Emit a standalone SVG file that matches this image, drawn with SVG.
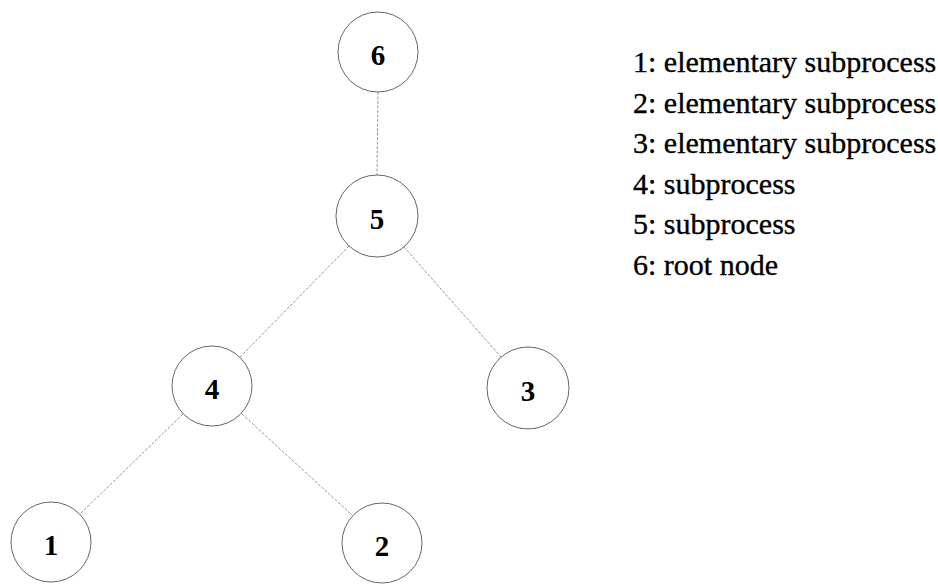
<svg xmlns="http://www.w3.org/2000/svg" width="938" height="585" viewBox="0 0 938 585">
<style>
.node circle{fill:#fff;stroke:#666;stroke-width:1}
.node text{font-family:"Liberation Serif","Times New Roman",serif;font-weight:bold;font-size:29px;text-anchor:middle;fill:#000}
.edge{stroke:#999;stroke-width:1;stroke-dasharray:3 1.5;fill:none}
.legend{font-family:"Liberation Serif","Times New Roman",serif;font-size:30px;fill:#000;stroke:#000;stroke-width:0.35}
</style>
<rect width="938" height="585" fill="#fff"/>
<g id="connectors">
<line class="edge" x1="378" y1="92" x2="377" y2="175"/>
<line class="edge" x1="349" y1="246" x2="240" y2="357"/>
<line class="edge" x1="404" y1="247" x2="501" y2="357"/>
<line class="edge" x1="183" y1="414" x2="80" y2="514"/>
<line class="edge" x1="242" y1="414" x2="352" y2="515"/>
</g>
<g id="node6" class="node"><circle cx="378" cy="52" r="40"/><text x="378" y="65">6</text></g>
<g id="node5" class="node"><circle cx="377" cy="216" r="41"/><text x="377" y="229">5</text></g>
<g id="node4" class="node"><circle cx="212" cy="386" r="40"/><text x="212" y="399">4</text></g>
<g id="node3" class="node"><circle cx="528" cy="388" r="41"/><text x="528" y="401">3</text></g>
<g id="node1" class="node"><circle cx="51" cy="542" r="40"/><text x="51" y="555">1</text></g>
<g id="node2" class="node"><circle cx="382" cy="543" r="40"/><text x="382" y="556">2</text></g>
<g id="legend">
<text class="legend" x="633" y="72">1: elementary subprocess</text>
<text class="legend" x="633" y="112.5">2: elementary subprocess</text>
<text class="legend" x="633" y="153">3: elementary subprocess</text>
<text class="legend" x="633" y="193.5">4: subprocess</text>
<text class="legend" x="633" y="234">5: subprocess</text>
<text class="legend" x="633" y="274.5">6: root node</text>
</g>
</svg>
